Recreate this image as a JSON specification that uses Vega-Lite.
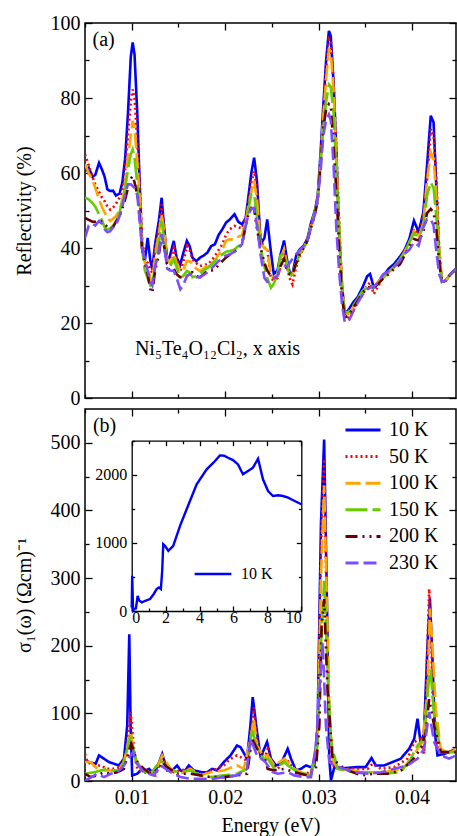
{
"$schema": "https://vega.github.io/schema/vega-lite/v6.json",
"padding": {"left": 13, "top": 12, "right": 0, "bottom": 0},
"background": "white",
"spacing": -2,
"config": {
  "font": "Liberation Serif",
  "view": {"stroke": "black", "strokeWidth": 1.5},
  "axis": {"domain": false, "grid": false, "labelFont": "Liberation Serif", "titleFont": "Liberation Serif", "labelFontSize": 20, "titleFontSize": 20, "titleFontWeight": "normal", "labelFontWeight": "normal", "labelColor": "black", "titleColor": "black", "tickColor": "black", "tickWidth": 1.3, "domainColor": "black", "domainWidth": 1.3, "labelPadding": 12},
  "legend": {"labelFont": "Liberation Serif", "labelFontWeight": "normal", "labelColor": "black"}
},
"resolve": {"scale": {"color": "independent", "strokeDash": "independent", "x": "independent", "y": "independent"}, "legend": {"color": "independent", "strokeDash": "independent"}},
"datasets": {
"refl": [
{"E":0.0050,"10 K":60.5,"50 K":65,"100 K":62.4,"150 K":53.4,"200 K":48,"230 K":42.7},
{"E":0.0054,"10 K":61.4,"50 K":62,"100 K":60,"150 K":53,"200 K":47.5,"230 K":46},
{"E":0.0058,"10 K":59,"50 K":59,"100 K":58,"150 K":52,"200 K":47,"230 K":46.5},
{"E":0.0061,"10 K":59.5,"50 K":57,"100 K":56,"150 K":51,"200 K":47,"230 K":46},
{"E":0.0065,"10 K":62.7,"50 K":55,"100 K":53,"150 K":49,"200 K":47.5,"230 K":47.2},
{"E":0.0068,"10 K":61,"50 K":53.5,"100 K":51,"150 K":47.5,"200 K":47,"230 K":46.5},
{"E":0.0071,"10 K":59,"50 K":52.5,"100 K":49.5,"150 K":45.5,"200 K":46.5,"230 K":45},
{"E":0.0074,"10 K":55.6,"50 K":51,"100 K":48,"150 K":45,"200 K":45.5,"230 K":44.2},
{"E":0.0077,"10 K":55.2,"50 K":50.2,"100 K":47.2,"150 K":45.2,"200 K":45,"230 K":44.5},
{"E":0.0080,"10 K":55.3,"50 K":50.8,"100 K":47.8,"150 K":46,"200 K":45.5,"230 K":45.5},
{"E":0.0083,"10 K":54,"50 K":51.7,"100 K":48.5,"150 K":47,"200 K":47,"230 K":46},
{"E":0.0087,"10 K":54.5,"50 K":53.5,"100 K":50,"150 K":49.5,"200 K":48.5,"230 K":48.5},
{"E":0.0090,"10 K":57.5,"50 K":55,"100 K":53,"150 K":52.5,"200 K":50.5,"230 K":51},
{"E":0.0093,"10 K":64,"50 K":61,"100 K":57,"150 K":56,"200 K":53,"230 K":54.5},
{"E":0.0096,"10 K":76,"50 K":70,"100 K":64,"150 K":61,"200 K":56,"230 K":57},
{"E":0.0099,"10 K":91,"50 K":79,"100 K":70,"150 K":65,"200 K":58.5,"230 K":57},
{"E":0.0101,"10 K":94.8,"50 K":82.3,"100 K":73.9,"150 K":66.3,"200 K":59.2,"230 K":56.5},
{"E":0.0103,"10 K":91.6,"50 K":80,"100 K":72,"150 K":64,"200 K":57.5,"230 K":56},
{"E":0.0106,"10 K":75.6,"50 K":68,"100 K":63,"150 K":57,"200 K":54,"230 K":54},
{"E":0.0109,"10 K":53.4,"50 K":55,"100 K":52,"150 K":48,"200 K":47,"230 K":46},
{"E":0.0111,"10 K":41,"50 K":43,"100 K":42,"150 K":40,"200 K":40,"230 K":40},
{"E":0.0114,"10 K":36.5,"50 K":37,"100 K":36,"150 K":34,"200 K":36,"230 K":37},
{"E":0.0117,"10 K":42.7,"50 K":36,"100 K":35,"150 K":32,"200 K":33,"230 K":34},
{"E":0.0120,"10 K":36.5,"50 K":34,"100 K":32,"150 K":30,"200 K":29,"230 K":31},
{"E":0.0122,"10 K":34.3,"50 K":33.5,"100 K":31,"150 K":30.5,"200 K":28,"230 K":30},
{"E":0.0125,"10 K":41,"50 K":40,"100 K":38,"150 K":35,"200 K":34,"230 K":35},
{"E":0.0129,"10 K":47.2,"50 K":45,"100 K":44,"150 K":41,"200 K":38,"230 K":39},
{"E":0.0132,"10 K":53.4,"50 K":51.6,"100 K":49,"150 K":47.2,"200 K":43.7,"230 K":43.7},
{"E":0.0135,"10 K":44.5,"50 K":45,"100 K":44,"150 K":42,"200 K":40,"230 K":40},
{"E":0.0138,"10 K":36.5,"50 K":37,"100 K":37,"150 K":36,"200 K":35,"230 K":34.5},
{"E":0.0141,"10 K":38,"50 K":36,"100 K":36,"150 K":35,"200 K":34,"230 K":34},
{"E":0.0145,"10 K":41.9,"50 K":40,"100 K":38.3,"150 K":37,"200 K":34.5,"230 K":33.9},
{"E":0.0148,"10 K":37.4,"50 K":37.5,"100 K":36,"150 K":35,"200 K":33,"230 K":32},
{"E":0.0152,"10 K":35.6,"50 K":33.9,"100 K":33.9,"150 K":32.2,"200 K":32.2,"230 K":29},
{"E":0.0155,"10 K":38.5,"50 K":36,"100 K":34,"150 K":32.5,"200 K":32,"230 K":30},
{"E":0.0159,"10 K":41.9,"50 K":40.5,"100 K":36.5,"150 K":33.9,"200 K":32.5,"230 K":32.5},
{"E":0.0162,"10 K":40.5,"50 K":39.5,"100 K":36.5,"150 K":33.5,"200 K":33.5,"230 K":33.1},
{"E":0.0165,"10 K":37.4,"50 K":37,"100 K":35.6,"150 K":32.2,"200 K":33.5,"230 K":32.5},
{"E":0.0169,"10 K":36.5,"50 K":36,"100 K":34.5,"150 K":32.5,"200 K":32.5,"230 K":32.2},
{"E":0.0173,"10 K":37.4,"50 K":35.2,"100 K":33.9,"150 K":33.1,"200 K":32.2,"230 K":32.2},
{"E":0.0177,"10 K":38,"50 K":35.5,"100 K":34.5,"150 K":34,"200 K":33,"230 K":32.8},
{"E":0.0181,"10 K":38.8,"50 K":35.6,"100 K":35.6,"150 K":34.7,"200 K":33.9,"230 K":33.5},
{"E":0.0185,"10 K":40.5,"50 K":36.5,"100 K":36,"150 K":35.5,"200 K":34,"230 K":34.5},
{"E":0.0189,"10 K":41,"50 K":37.9,"100 K":36.5,"150 K":36.5,"200 K":34.2,"230 K":35.5},
{"E":0.0193,"10 K":43.5,"50 K":39.5,"100 K":38.3,"150 K":37.5,"200 K":35.5,"230 K":36.5},
{"E":0.0197,"10 K":45,"50 K":41,"100 K":39.5,"150 K":38.3,"200 K":36.5,"230 K":37.4},
{"E":0.0201,"10 K":46.8,"50 K":43.6,"100 K":42,"150 K":39,"200 K":37.5,"230 K":38},
{"E":0.0205,"10 K":47.6,"50 K":45,"100 K":42.3,"150 K":39.2,"200 K":38.3,"230 K":38.3},
{"E":0.0210,"10 K":49,"50 K":45.9,"100 K":42.3,"150 K":39.6,"200 K":39,"230 K":39},
{"E":0.0214,"10 K":47,"50 K":45.5,"100 K":43,"150 K":40.5,"200 K":40,"230 K":40},
{"E":0.0218,"10 K":46.3,"50 K":45.2,"100 K":43.5,"150 K":41.1,"200 K":41,"230 K":41},
{"E":0.0222,"10 K":48,"50 K":48,"100 K":47,"150 K":46,"200 K":46,"230 K":46},
{"E":0.0225,"10 K":54,"50 K":52,"100 K":51.5,"150 K":50.5,"200 K":49,"230 K":49},
{"E":0.0228,"10 K":60,"50 K":57.5,"100 K":55,"150 K":54.3,"200 K":50.7,"230 K":50.5},
{"E":0.0231,"10 K":64.1,"50 K":60.5,"100 K":57.9,"150 K":54.4,"200 K":50.4,"230 K":50.7},
{"E":0.0234,"10 K":57.9,"50 K":56,"100 K":53,"150 K":48.1,"200 K":45,"230 K":46},
{"E":0.0238,"10 K":41,"50 K":42,"100 K":41,"150 K":40.1,"200 K":40,"230 K":38},
{"E":0.0242,"10 K":42.7,"50 K":40,"100 K":40,"150 K":35,"200 K":36,"230 K":32},
{"E":0.0245,"10 K":47.6,"50 K":40,"100 K":39.5,"150 K":32,"200 K":34,"230 K":31},
{"E":0.0249,"10 K":38.8,"50 K":31.7,"100 K":33,"150 K":29.4,"200 K":32.5,"230 K":31.5},
{"E":0.0252,"10 K":33.1,"50 K":31.5,"100 K":32,"150 K":30.5,"200 K":32,"230 K":32},
{"E":0.0256,"10 K":34,"50 K":32,"100 K":33,"150 K":33,"200 K":32.5,"230 K":32.5},
{"E":0.0259,"10 K":38,"50 K":35,"100 K":37,"150 K":37.9,"200 K":35,"230 K":34.5},
{"E":0.0263,"10 K":42,"50 K":39.6,"100 K":39.7,"150 K":38.8,"200 K":37.1,"230 K":35.3},
{"E":0.0266,"10 K":37.1,"50 K":35,"100 K":36,"150 K":35,"200 K":34,"230 K":35},
{"E":0.0269,"10 K":33.5,"50 K":32,"100 K":33.5,"150 K":33,"200 K":33,"230 K":36},
{"E":0.0272,"10 K":33,"50 K":30.3,"100 K":33,"150 K":32.5,"200 K":33,"230 K":37.1},
{"E":0.0276,"10 K":38,"50 K":35,"100 K":36,"150 K":36,"200 K":36,"230 K":38.4},
{"E":0.0280,"10 K":39.7,"50 K":38,"100 K":38.5,"150 K":38.5,"200 K":38.5,"230 K":39.5},
{"E":0.0284,"10 K":40.6,"50 K":40,"100 K":40,"150 K":40,"200 K":40,"230 K":40.5},
{"E":0.0288,"10 K":42.5,"50 K":42,"100 K":42,"150 K":42,"200 K":42,"230 K":42},
{"E":0.0292,"10 K":46.8,"50 K":46,"100 K":46,"150 K":46,"200 K":45.5,"230 K":45.5},
{"E":0.0296,"10 K":50,"50 K":49.5,"100 K":49.5,"150 K":49.5,"200 K":49,"230 K":49},
{"E":0.0299,"10 K":53.9,"50 K":53,"100 K":53,"150 K":53,"200 K":52.5,"230 K":53},
{"E":0.0302,"10 K":65,"50 K":63,"100 K":63,"150 K":62.5,"200 K":62,"230 K":60},
{"E":0.0305,"10 K":78,"50 K":76,"100 K":75,"150 K":72,"200 K":72,"230 K":70},
{"E":0.0308,"10 K":90,"50 K":88,"100 K":85,"150 K":79,"200 K":77,"230 K":74},
{"E":0.0311,"10 K":97.9,"50 K":95.7,"100 K":93,"150 K":83.6,"200 K":78.4,"230 K":75.6},
{"E":0.0313,"10 K":96.5,"50 K":95,"100 K":92.5,"150 K":83,"200 K":78,"230 K":74},
{"E":0.0316,"10 K":84,"50 K":84,"100 K":82,"150 K":76,"200 K":67,"230 K":62},
{"E":0.0319,"10 K":65.5,"50 K":66,"100 K":64,"150 K":60,"200 K":55,"230 K":45},
{"E":0.0322,"10 K":43.3,"50 K":47,"100 K":45,"150 K":45,"200 K":40,"230 K":33.5},
{"E":0.0325,"10 K":30,"50 K":30,"100 K":30,"150 K":29,"200 K":27,"230 K":25},
{"E":0.0328,"10 K":22.4,"50 K":21.1,"100 K":22,"150 K":22.8,"200 K":21.5,"230 K":20.2},
{"E":0.0332,"10 K":23.5,"50 K":21.5,"100 K":22.5,"150 K":23,"200 K":22,"230 K":20.5},
{"E":0.0337,"10 K":25.5,"50 K":23.5,"100 K":24.2,"150 K":24.6,"200 K":24,"230 K":23},
{"E":0.0342,"10 K":27,"50 K":25.5,"100 K":26.2,"150 K":26.5,"200 K":26,"230 K":25.5},
{"E":0.0347,"10 K":29.5,"50 K":27.5,"100 K":28.5,"150 K":28.5,"200 K":28,"230 K":27.5},
{"E":0.0352,"10 K":32.5,"50 K":30,"100 K":29.5,"150 K":29.5,"200 K":29.5,"230 K":29},
{"E":0.0355,"10 K":33.1,"50 K":30.8,"100 K":30,"150 K":29.5,"200 K":29.5,"230 K":29.4},
{"E":0.0359,"10 K":29.5,"50 K":27.7,"100 K":29.5,"150 K":29.5,"200 K":29.4,"230 K":29.5},
{"E":0.0364,"10 K":31,"50 K":30,"100 K":31,"150 K":30.5,"200 K":30.5,"230 K":31},
{"E":0.0369,"10 K":32.5,"50 K":32.2,"100 K":32.6,"150 K":32,"200 K":31.9,"230 K":33},
{"E":0.0375,"10 K":34.5,"50 K":33.5,"100 K":33.5,"150 K":33.5,"200 K":33,"230 K":33.8},
{"E":0.0381,"10 K":35.8,"50 K":35,"100 K":35,"150 K":35,"200 K":34.5,"230 K":35},
{"E":0.0387,"10 K":37.7,"50 K":37,"100 K":36.5,"150 K":37,"200 K":35.6,"230 K":36.5},
{"E":0.0392,"10 K":39.5,"50 K":39,"100 K":39,"150 K":39,"200 K":38,"230 K":38.5},
{"E":0.0397,"10 K":42.4,"50 K":41.5,"100 K":41.5,"150 K":41.5,"200 K":40.5,"230 K":39.5},
{"E":0.0402,"10 K":47.3,"50 K":45.1,"100 K":44.5,"150 K":44,"200 K":42.4,"230 K":41.5},
{"E":0.0407,"10 K":44.2,"50 K":43.5,"100 K":43,"150 K":43,"200 K":42,"230 K":40.6},
{"E":0.0412,"10 K":49.5,"50 K":48.5,"100 K":46.5,"150 K":45.5,"200 K":44,"230 K":45.5},
{"E":0.0416,"10 K":62,"50 K":58,"100 K":58,"150 K":54,"200 K":49.3,"230 K":47.7},
{"E":0.0420,"10 K":75.3,"50 K":71.7,"100 K":65.5,"150 K":57.5,"200 K":50.4,"230 K":47.7},
{"E":0.0423,"10 K":73.5,"50 K":70,"100 K":63.7,"150 K":56,"200 K":49.5,"230 K":46},
{"E":0.0426,"10 K":56,"50 K":58,"100 K":54,"150 K":48,"200 K":45,"230 K":39},
{"E":0.0429,"10 K":38,"50 K":40,"100 K":40,"150 K":38,"200 K":36,"230 K":33},
{"E":0.0432,"10 K":31,"50 K":31,"100 K":31,"150 K":31,"200 K":31,"230 K":31},
{"E":0.0436,"10 K":31.3,"50 K":31.3,"100 K":31.3,"150 K":31.3,"200 K":31.3,"230 K":31.3},
{"E":0.0441,"10 K":33,"50 K":33,"100 K":33,"150 K":33,"200 K":33,"230 K":33},
{"E":0.0447,"10 K":34.4,"50 K":34.4,"100 K":34.4,"150 K":34.4,"200 K":34.4,"230 K":34.4}
],
"cond": [
{"T":"10 K","E":0.005,"v":30.4},{"T":"10 K","E":0.00543,"v":28},{"T":"10 K","E":0.00614,"v":25.5},{"T":"10 K","E":0.0065,"v":37.8},{"T":"10 K","E":0.00703,"v":33},{"T":"10 K","E":0.00756,"v":28},{"T":"10 K","E":0.0081,"v":25.5},{"T":"10 K","E":0.00863,"v":23},{"T":"10 K","E":0.00917,"v":33},{"T":"10 K","E":0.00952,"v":82},{"T":"10 K","E":0.00974,"v":217},{"T":"10 K","E":0.00988,"v":82},{"T":"10 K","E":0.01005,"v":8.3},{"T":"10 K","E":0.01059,"v":10.7},{"T":"10 K","E":0.01112,"v":18},{"T":"10 K","E":0.01149,"v":15.6},{"T":"10 K","E":0.01184,"v":18},{"T":"10 K","E":0.01237,"v":10.7},{"T":"10 K","E":0.0128,"v":23},{"T":"10 K","E":0.01326,"v":40},{"T":"10 K","E":0.01379,"v":15.6},{"T":"10 K","E":0.01433,"v":15.6},{"T":"10 K","E":0.01486,"v":23},{"T":"10 K","E":0.01522,"v":15.6},{"T":"10 K","E":0.01558,"v":13},{"T":"10 K","E":0.01611,"v":23},{"T":"10 K","E":0.01665,"v":15.6},{"T":"10 K","E":0.01753,"v":13},{"T":"10 K","E":0.01807,"v":13},{"T":"10 K","E":0.0186,"v":18},{"T":"10 K","E":0.01913,"v":15.6},{"T":"10 K","E":0.01985,"v":28},{"T":"10 K","E":0.02057,"v":37.8},{"T":"10 K","E":0.02127,"v":52.6},{"T":"10 K","E":0.02164,"v":50},{"T":"10 K","E":0.02234,"v":33},{"T":"10 K","E":0.0227,"v":82},{"T":"10 K","E":0.02295,"v":124},{"T":"10 K","E":0.02341,"v":72},{"T":"10 K","E":0.02377,"v":37.8},{"T":"10 K","E":0.02402,"v":42.7},{"T":"10 K","E":0.02448,"v":57.6},{"T":"10 K","E":0.0249,"v":33},{"T":"10 K","E":0.02544,"v":23},{"T":"10 K","E":0.02597,"v":25.5},{"T":"10 K","E":0.02669,"v":47.7},{"T":"10 K","E":0.02704,"v":33},{"T":"10 K","E":0.02758,"v":15.6},{"T":"10 K","E":0.02811,"v":18},{"T":"10 K","E":0.02864,"v":23},{"T":"10 K","E":0.02918,"v":20.5},{"T":"10 K","E":0.02954,"v":23},{"T":"10 K","E":0.02989,"v":82},{"T":"10 K","E":0.03025,"v":380},{"T":"10 K","E":0.03059,"v":505},{"T":"10 K","E":0.03091,"v":250},{"T":"10 K","E":0.03114,"v":33},{"T":"10 K","E":0.03132,"v":1},{"T":"10 K","E":0.03168,"v":20.5},{"T":"10 K","E":0.03275,"v":19},{"T":"10 K","E":0.03399,"v":20.5},{"T":"10 K","E":0.03502,"v":20.5},{"T":"10 K","E":0.03566,"v":34},{"T":"10 K","E":0.03612,"v":23},{"T":"10 K","E":0.03702,"v":23},{"T":"10 K","E":0.03791,"v":28},{"T":"10 K","E":0.03879,"v":33},{"T":"10 K","E":0.03969,"v":47.7},{"T":"10 K","E":0.04023,"v":62.5},{"T":"10 K","E":0.04058,"v":92},{"T":"10 K","E":0.04093,"v":55},{"T":"10 K","E":0.04127,"v":70},{"T":"10 K","E":0.04165,"v":200},{"T":"10 K","E":0.04191,"v":270},{"T":"10 K","E":0.04218,"v":180},{"T":"10 K","E":0.04245,"v":70},{"T":"10 K","E":0.04272,"v":37.8},{"T":"10 K","E":0.04343,"v":40},{"T":"10 K","E":0.04397,"v":42.7},{"T":"10 K","E":0.0447,"v":47.7},
{"T":"50 K","E":0.005,"v":40},{"T":"50 K","E":0.00525,"v":28},{"T":"50 K","E":0.00596,"v":23},{"T":"50 K","E":0.00668,"v":23},{"T":"50 K","E":0.00738,"v":18},{"T":"50 K","E":0.0081,"v":18},{"T":"50 K","E":0.00881,"v":20.5},{"T":"50 K","E":0.00935,"v":37.8},{"T":"50 K","E":0.00965,"v":70},{"T":"50 K","E":0.00988,"v":102},{"T":"50 K","E":0.01024,"v":47.7},{"T":"50 K","E":0.01059,"v":18},{"T":"50 K","E":0.0113,"v":13},{"T":"50 K","E":0.01202,"v":10.7},{"T":"50 K","E":0.01255,"v":8.3},{"T":"50 K","E":0.01326,"v":35.4},{"T":"50 K","E":0.01379,"v":18},{"T":"50 K","E":0.01451,"v":13},{"T":"50 K","E":0.01522,"v":15.6},{"T":"50 K","E":0.01611,"v":18},{"T":"50 K","E":0.017,"v":10.7},{"T":"50 K","E":0.01771,"v":10.7},{"T":"50 K","E":0.01843,"v":15.6},{"T":"50 K","E":0.01913,"v":18},{"T":"50 K","E":0.01985,"v":23},{"T":"50 K","E":0.02057,"v":33},{"T":"50 K","E":0.02127,"v":37.8},{"T":"50 K","E":0.02199,"v":33},{"T":"50 K","E":0.02252,"v":28},{"T":"50 K","E":0.0227,"v":62.5},{"T":"50 K","E":0.02306,"v":109},{"T":"50 K","E":0.02341,"v":62.5},{"T":"50 K","E":0.02377,"v":37.8},{"T":"50 K","E":0.02431,"v":37.8},{"T":"50 K","E":0.02455,"v":47.7},{"T":"50 K","E":0.02509,"v":23},{"T":"50 K","E":0.02562,"v":18},{"T":"50 K","E":0.02651,"v":33},{"T":"50 K","E":0.02704,"v":23},{"T":"50 K","E":0.02776,"v":13},{"T":"50 K","E":0.02847,"v":10.7},{"T":"50 K","E":0.02918,"v":13},{"T":"50 K","E":0.02989,"v":57.6},{"T":"50 K","E":0.03025,"v":350},{"T":"50 K","E":0.03059,"v":476},{"T":"50 K","E":0.03091,"v":220},{"T":"50 K","E":0.03114,"v":82},{"T":"50 K","E":0.0315,"v":23},{"T":"50 K","E":0.03238,"v":18},{"T":"50 K","E":0.03381,"v":18},{"T":"50 K","E":0.03524,"v":18},{"T":"50 K","E":0.03577,"v":25.5},{"T":"50 K","E":0.03666,"v":18},{"T":"50 K","E":0.03809,"v":20.5},{"T":"50 K","E":0.03951,"v":33},{"T":"50 K","E":0.04023,"v":57.6},{"T":"50 K","E":0.04093,"v":62.5},{"T":"50 K","E":0.04129,"v":40},{"T":"50 K","E":0.04154,"v":150},{"T":"50 K","E":0.04183,"v":284},{"T":"50 K","E":0.04207,"v":200},{"T":"50 K","E":0.04218,"v":132},{"T":"50 K","E":0.04272,"v":47.7},{"T":"50 K","E":0.04343,"v":42.7},{"T":"50 K","E":0.0447,"v":45},
{"T":"100 K","E":0.005,"v":28},{"T":"100 K","E":0.00561,"v":28},{"T":"100 K","E":0.00631,"v":18},{"T":"100 K","E":0.00703,"v":15.6},{"T":"100 K","E":0.00775,"v":15.6},{"T":"100 K","E":0.00845,"v":15.6},{"T":"100 K","E":0.00917,"v":28},{"T":"100 K","E":0.0097,"v":62.5},{"T":"100 K","E":0.00991,"v":73},{"T":"100 K","E":0.01005,"v":57.6},{"T":"100 K","E":0.01042,"v":28},{"T":"100 K","E":0.0113,"v":18},{"T":"100 K","E":0.01237,"v":8.3},{"T":"100 K","E":0.01326,"v":37.8},{"T":"100 K","E":0.01416,"v":18},{"T":"100 K","E":0.01522,"v":10.7},{"T":"100 K","E":0.01629,"v":18},{"T":"100 K","E":0.01736,"v":8.3},{"T":"100 K","E":0.01843,"v":13},{"T":"100 K","E":0.01985,"v":15.6},{"T":"100 K","E":0.02127,"v":23},{"T":"100 K","E":0.02199,"v":18},{"T":"100 K","E":0.0227,"v":62.5},{"T":"100 K","E":0.02306,"v":92},{"T":"100 K","E":0.02341,"v":52.6},{"T":"100 K","E":0.02412,"v":35.4},{"T":"100 K","E":0.02455,"v":37.8},{"T":"100 K","E":0.02527,"v":23},{"T":"100 K","E":0.02634,"v":33},{"T":"100 K","E":0.02669,"v":28},{"T":"100 K","E":0.0274,"v":18},{"T":"100 K","E":0.02847,"v":10.7},{"T":"100 K","E":0.02918,"v":10.7},{"T":"100 K","E":0.02989,"v":57.6},{"T":"100 K","E":0.03025,"v":300},{"T":"100 K","E":0.03059,"v":437},{"T":"100 K","E":0.03091,"v":250},{"T":"100 K","E":0.03114,"v":107},{"T":"100 K","E":0.0315,"v":33},{"T":"100 K","E":0.03203,"v":18},{"T":"100 K","E":0.03381,"v":15.6},{"T":"100 K","E":0.03524,"v":13},{"T":"100 K","E":0.03702,"v":13},{"T":"100 K","E":0.03879,"v":18},{"T":"100 K","E":0.03986,"v":28},{"T":"100 K","E":0.04058,"v":47.7},{"T":"100 K","E":0.04111,"v":57.6},{"T":"100 K","E":0.04165,"v":132},{"T":"100 K","E":0.04191,"v":255},{"T":"100 K","E":0.04218,"v":200},{"T":"100 K","E":0.04253,"v":107},{"T":"100 K","E":0.04307,"v":47.7},{"T":"100 K","E":0.04397,"v":40},{"T":"100 K","E":0.0447,"v":47.7},
{"T":"150 K","E":0.005,"v":10.7},{"T":"150 K","E":0.00596,"v":13},{"T":"150 K","E":0.00668,"v":15.6},{"T":"150 K","E":0.00738,"v":18},{"T":"150 K","E":0.0081,"v":15.6},{"T":"150 K","E":0.00881,"v":15.6},{"T":"150 K","E":0.00935,"v":37.8},{"T":"150 K","E":0.00988,"v":67},{"T":"150 K","E":0.01042,"v":33},{"T":"150 K","E":0.01112,"v":15.6},{"T":"150 K","E":0.01202,"v":10.7},{"T":"150 K","E":0.01309,"v":30.4},{"T":"150 K","E":0.01416,"v":15.6},{"T":"150 K","E":0.01522,"v":13},{"T":"150 K","E":0.01629,"v":15.6},{"T":"150 K","E":0.01736,"v":8.3},{"T":"150 K","E":0.01843,"v":5.8},{"T":"150 K","E":0.01985,"v":8.3},{"T":"150 K","E":0.02127,"v":10.7},{"T":"150 K","E":0.02234,"v":18},{"T":"150 K","E":0.02287,"v":77},{"T":"150 K","E":0.02341,"v":47.7},{"T":"150 K","E":0.02412,"v":33},{"T":"150 K","E":0.02455,"v":33},{"T":"150 K","E":0.02527,"v":18},{"T":"150 K","E":0.02634,"v":28},{"T":"150 K","E":0.02669,"v":23},{"T":"150 K","E":0.02776,"v":13},{"T":"150 K","E":0.02918,"v":8.3},{"T":"150 K","E":0.02989,"v":52.6},{"T":"150 K","E":0.03025,"v":200},{"T":"150 K","E":0.03059,"v":296},{"T":"150 K","E":0.03091,"v":180},{"T":"150 K","E":0.03132,"v":57.6},{"T":"150 K","E":0.03203,"v":18},{"T":"150 K","E":0.03381,"v":13},{"T":"150 K","E":0.03524,"v":13},{"T":"150 K","E":0.03702,"v":10.7},{"T":"150 K","E":0.03879,"v":13},{"T":"150 K","E":0.03986,"v":33},{"T":"150 K","E":0.04058,"v":52.6},{"T":"150 K","E":0.04129,"v":62.5},{"T":"150 K","E":0.04183,"v":156},{"T":"150 K","E":0.04197,"v":165},{"T":"150 K","E":0.04236,"v":97},{"T":"150 K","E":0.04307,"v":42.7},{"T":"150 K","E":0.0447,"v":42.7},
{"T":"200 K","E":0.005,"v":10.7},{"T":"200 K","E":0.00561,"v":5.8},{"T":"200 K","E":0.00631,"v":8.3},{"T":"200 K","E":0.00703,"v":13},{"T":"200 K","E":0.00775,"v":10.7},{"T":"200 K","E":0.00845,"v":13},{"T":"200 K","E":0.00917,"v":18},{"T":"200 K","E":0.00988,"v":52.6},{"T":"200 K","E":0.00997,"v":55},{"T":"200 K","E":0.01059,"v":28},{"T":"200 K","E":0.0113,"v":18},{"T":"200 K","E":0.01202,"v":10.7},{"T":"200 K","E":0.01291,"v":18},{"T":"200 K","E":0.01326,"v":28},{"T":"200 K","E":0.01379,"v":20.5},{"T":"200 K","E":0.01486,"v":10.7},{"T":"200 K","E":0.01629,"v":10.7},{"T":"200 K","E":0.01736,"v":8.3},{"T":"200 K","E":0.01843,"v":5.8},{"T":"200 K","E":0.01985,"v":5.8},{"T":"200 K","E":0.02127,"v":8.3},{"T":"200 K","E":0.02234,"v":10.7},{"T":"200 K","E":0.02287,"v":62.5},{"T":"200 K","E":0.02341,"v":47.7},{"T":"200 K","E":0.02412,"v":37.8},{"T":"200 K","E":0.02455,"v":18},{"T":"200 K","E":0.02527,"v":15.6},{"T":"200 K","E":0.02634,"v":18},{"T":"200 K","E":0.0274,"v":13},{"T":"200 K","E":0.02883,"v":8.3},{"T":"200 K","E":0.02971,"v":18},{"T":"200 K","E":0.03008,"v":82},{"T":"200 K","E":0.03032,"v":230},{"T":"200 K","E":0.03059,"v":269},{"T":"200 K","E":0.03096,"v":132},{"T":"200 K","E":0.0315,"v":33},{"T":"200 K","E":0.03275,"v":18},{"T":"200 K","E":0.03452,"v":8.3},{"T":"200 K","E":0.03595,"v":10.7},{"T":"200 K","E":0.03737,"v":10.7},{"T":"200 K","E":0.03879,"v":15.6},{"T":"200 K","E":0.03986,"v":28},{"T":"200 K","E":0.04093,"v":47.7},{"T":"200 K","E":0.04147,"v":72},{"T":"200 K","E":0.04183,"v":121},{"T":"200 K","E":0.04236,"v":82},{"T":"200 K","E":0.04307,"v":42.7},{"T":"200 K","E":0.0447,"v":42.7},
{"T":"230 K","E":0.005,"v":1},{"T":"230 K","E":0.00543,"v":3.4},{"T":"230 K","E":0.00631,"v":10.7},{"T":"230 K","E":0.00703,"v":5.8},{"T":"230 K","E":0.00775,"v":10.7},{"T":"230 K","E":0.00845,"v":13},{"T":"230 K","E":0.00917,"v":23},{"T":"230 K","E":0.00988,"v":37.8},{"T":"230 K","E":0.01016,"v":43},{"T":"230 K","E":0.01042,"v":28},{"T":"230 K","E":0.0113,"v":13},{"T":"230 K","E":0.01237,"v":8.3},{"T":"230 K","E":0.01309,"v":23},{"T":"230 K","E":0.01416,"v":13},{"T":"230 K","E":0.01522,"v":5.8},{"T":"230 K","E":0.01629,"v":3.4},{"T":"230 K","E":0.01771,"v":3.4},{"T":"230 K","E":0.01878,"v":3.4},{"T":"230 K","E":0.01985,"v":5.8},{"T":"230 K","E":0.02127,"v":8.3},{"T":"230 K","E":0.02234,"v":18},{"T":"230 K","E":0.0227,"v":62.5},{"T":"230 K","E":0.02341,"v":37.8},{"T":"230 K","E":0.02431,"v":28},{"T":"230 K","E":0.02455,"v":23},{"T":"230 K","E":0.02509,"v":13},{"T":"230 K","E":0.02562,"v":10.7},{"T":"230 K","E":0.02669,"v":13},{"T":"230 K","E":0.0274,"v":8.3},{"T":"230 K","E":0.02847,"v":5.8},{"T":"230 K","E":0.02918,"v":5.8},{"T":"230 K","E":0.02971,"v":52.6},{"T":"230 K","E":0.03008,"v":132},{"T":"230 K","E":0.03043,"v":205},{"T":"230 K","E":0.03078,"v":82},{"T":"230 K","E":0.03114,"v":28},{"T":"230 K","E":0.03168,"v":23},{"T":"230 K","E":0.03381,"v":13},{"T":"230 K","E":0.03524,"v":10.7},{"T":"230 K","E":0.03666,"v":13},{"T":"230 K","E":0.03809,"v":18},{"T":"230 K","E":0.03951,"v":23},{"T":"230 K","E":0.04058,"v":33},{"T":"230 K","E":0.04129,"v":47.7},{"T":"230 K","E":0.04183,"v":102},{"T":"230 K","E":0.04236,"v":57.6},{"T":"230 K","E":0.04307,"v":37.8},{"T":"230 K","E":0.04397,"v":33},{"T":"230 K","E":0.0447,"v":37.8}
],
"inset": [
{"T":"10 K","E":0.0,"S":50},{"T":"10 K","E":0.03,"S":517},{"T":"10 K","E":0.08,"S":10},{"T":"10 K","E":0.15,"S":30},{"T":"10 K","E":0.25,"S":40},{"T":"10 K","E":0.35,"S":220},{"T":"10 K","E":0.45,"S":150},{"T":"10 K","E":0.6,"S":127},{"T":"10 K","E":0.8,"S":150},{"T":"10 K","E":1.08,"S":176},{"T":"10 K","E":1.3,"S":250},{"T":"10 K","E":1.47,"S":322},{"T":"10 K","E":1.6,"S":346},{"T":"10 K","E":1.72,"S":322},{"T":"10 K","E":1.8,"S":600},{"T":"10 K","E":1.86,"S":981},{"T":"10 K","E":1.96,"S":957},{"T":"10 K","E":2.16,"S":884},{"T":"10 K","E":2.45,"S":957},{"T":"10 K","E":2.85,"S":1249},{"T":"10 K","E":3.24,"S":1493},{"T":"10 K","E":3.83,"S":1859},{"T":"10 K","E":4.42,"S":2079},{"T":"10 K","E":4.82,"S":2177},{"T":"10 K","E":5.2,"S":2284},{"T":"10 K","E":5.45,"S":2280},{"T":"10 K","E":5.68,"S":2250},{"T":"10 K","E":5.97,"S":2216},{"T":"10 K","E":6.27,"S":2152},{"T":"10 K","E":6.56,"S":2006},{"T":"10 K","E":6.86,"S":2055},{"T":"10 K","E":7.15,"S":2104},{"T":"10 K","E":7.45,"S":2235},{"T":"10 K","E":7.74,"S":1933},{"T":"10 K","E":8.04,"S":1761},{"T":"10 K","E":8.33,"S":1688},{"T":"10 K","E":8.63,"S":1698},{"T":"10 K","E":8.92,"S":1688},{"T":"10 K","E":9.22,"S":1664},{"T":"10 K","E":9.61,"S":1615},{"T":"10 K","E":10,"S":1567}
]
},
"vconcat": [
{
 "width": 371, "height": 375,
 "layer": [
  {
   "data": {"name": "refl"},
   "transform": [{"fold": ["10 K","50 K","100 K","150 K","200 K","230 K"], "as": ["T","v"]}],
   "mark": {"type": "line", "strokeWidth": 2.6, "clip": true},
   "encoding": {
     "x": {"field": "E", "type": "quantitative", "scale": {"domain": [0.005, 0.0447], "nice": false, "zero": false},
           "axis": {"orient": "bottom", "title": null, "labels": false, "values": [0.005,0.01,0.015,0.02,0.025,0.03,0.035,0.04], "tickSize": {"condition": {"test": "abs(datum.value*100-round(datum.value*100))>0.01", "value": -4}, "value": -7}}},
     "y": {"field": "v", "type": "quantitative", "scale": {"domain": [0, 100], "nice": false},
           "axis": {"orient": "left", "title": "Reflectivity (%)", "titlePadding": 16, "values": [0,10,20,30,40,50,60,70,80,90,100], "labelExpr": "datum.value % 20 == 0 ? datum.label : ''", "tickSize": {"condition": {"test": "datum.value % 20 != 0", "value": -4}, "value": -7}}},
     "color": {"field": "T", "type": "nominal", "scale": {"domain": ["10 K","50 K","100 K","150 K","200 K","230 K"], "range": ["#0000ff","#ff0000","#ffa500","#66cc00","#660000","#7b4dff"]}, "legend": null},
     "strokeDash": {"field": "T", "type": "nominal", "scale": {"domain": ["10 K","50 K","100 K","150 K","200 K","230 K"], "range": [[1,0],[2,3],[15,5],[22,5],[12,5,2,5,2,5],[13,5]]}, "legend": null}
   }
  },
  {
   "data": {"values": [{}]},
   "mark": {"type": "text", "text": "(a)", "align": "left", "baseline": "middle", "fontSize": 20},
   "encoding": {
     "x": {"datum": 0.0058, "type": "quantitative", "axis": {"orient": "top", "title": null, "labels": false, "values": [0.005,0.01,0.015,0.02,0.025,0.03,0.035,0.04], "tickSize": {"condition": {"test": "abs(datum.value*100-round(datum.value*100))>0.01", "value": -4}, "value": -7}}},
     "y": {"datum": 95.5, "type": "quantitative", "axis": {"orient": "right", "title": null, "labels": false, "values": [0,10,20,30,40,50,60,70,80,90,100], "tickSize": {"condition": {"test": "datum.value % 20 != 0", "value": -4}, "value": -7}}}
   }
  },
  {
   "data": {"values": [{}]},
   "mark": {"type": "text", "text": "Ni₅Te₄O₁₂Cl₂, x axis", "align": "left", "baseline": "middle", "fontSize": 20},
   "encoding": {
     "x": {"datum": 0.01034, "type": "quantitative", "axis": null},
     "y": {"datum": 13, "type": "quantitative", "axis": null}
   }
  }
 ],
 "resolve": {"axis": {"x": "independent", "y": "independent"}}
},
{
 "width": 371, "height": 372,
 "layer": [
  {
   "layer": [
    {
     "data": {"name": "cond"},
     "mark": {"type": "line", "strokeWidth": 2.6, "clip": true},
     "encoding": {
       "x": {"field": "E", "type": "quantitative", "scale": {"domain": [0.005, 0.0447], "nice": false, "zero": false},
             "axis": {"orient": "bottom", "title": "Energy (eV)", "titleFont": "Liberation Serif", "titleFontWeight": "normal", "titlePadding": 8, "labelPadding": 13, "format": ".2f", "labelExpr": "abs(datum.value*100-round(datum.value*100))>0.01 ? '' : datum.label", "values": [0.005,0.01,0.015,0.02,0.025,0.03,0.035,0.04], "tickSize": {"condition": {"test": "abs(datum.value*100-round(datum.value*100))>0.01", "value": -4}, "value": -7}}},
       "y": {"field": "v", "type": "quantitative", "scale": {"domain": [0, 550], "nice": false},
             "axis": {"orient": "left", "title": "σ₁(ω) (Ωcm)⁻¹", "titlePadding": 16, "values": [0,50,100,150,200,250,300,350,400,450,500], "labelExpr": "datum.value % 100 == 0 ? datum.label : ''", "tickSize": {"condition": {"test": "datum.value % 100 != 0", "value": -4}, "value": -7}}},
       "color": {"field": "T", "type": "nominal", "scale": {"domain": ["10 K","50 K","100 K","150 K","200 K","230 K"], "range": ["#0000ff","#ff0000","#ffa500","#66cc00","#660000","#7b4dff"]},
                 "legend": {"orient": "none", "legendX": 259, "legendY": 11, "title": null, "symbolType": "stroke", "symbolSize": 1225, "symbolStrokeWidth": 3, "labelFont": "Liberation Serif", "labelFontWeight": "normal", "labelFontSize": 20, "labelOffset": 7, "clipHeight": 20, "rowPadding": 6.6}},
       "strokeDash": {"field": "T", "type": "nominal", "scale": {"domain": ["10 K","50 K","100 K","150 K","200 K","230 K"], "range": [[1,0],[2,3],[15,5],[22,5],[12,5,2,5,2,5],[13,5]]},
                 "legend": {"orient": "none", "legendX": 259, "legendY": 11, "title": null, "symbolType": "stroke", "symbolSize": 1225, "symbolStrokeWidth": 3, "labelFont": "Liberation Serif", "labelFontWeight": "normal", "labelFontSize": 20, "labelOffset": 7, "clipHeight": 20, "rowPadding": 6.6}}
     }
    },
    {
     "data": {"values": [{}]},
     "mark": {"type": "text", "text": "(b)", "align": "left", "baseline": "middle", "fontSize": 20},
     "encoding": {
       "x": {"datum": 0.00585, "type": "quantitative", "axis": {"orient": "top", "title": null, "labels": false, "values": [0.005,0.01,0.015,0.02,0.025,0.03,0.035,0.04], "tickSize": {"condition": {"test": "abs(datum.value*100-round(datum.value*100))>0.01", "value": -4}, "value": -7}}},
       "y": {"datum": 525, "type": "quantitative", "axis": {"orient": "right", "title": null, "labels": false, "values": [0,50,100,150,200,250,300,350,400,450,500], "tickSize": {"condition": {"test": "datum.value % 100 != 0", "value": -4}, "value": -7}}}
     }
    }
   ],
   "resolve": {"axis": {"x": "independent", "y": "independent"}}
  },
  {
   "layer": [
    {
     "data": {"name": "inset"},
     "mark": {"type": "line", "strokeWidth": 2.4},
     "encoding": {
       "x": {"field": "E", "type": "quantitative", "scale": {"domain": [0, 10], "range": [46.7, 216.3], "nice": false, "zero": false},
             "axis": {"orient": "bottom", "offset": -170, "title": null, "domain": true, "labelFontSize": 16, "labelPadding": 3, "format": "d", "values": [0,1,2,3,4,5,6,7,8,9,10], "labelExpr": "datum.value % 2 == 0 ? datum.label : ''", "tickSize": {"condition": {"test": "datum.value % 2 != 0", "value": -3}, "value": -5}}},
       "y": {"field": "S", "type": "quantitative", "scale": {"domain": [0, 2500], "range": [202, 31.7], "nice": false},
             "axis": {"orient": "left", "offset": -46.7, "title": null, "domain": true, "labelFontSize": 16, "labelPadding": 10, "format": "d", "values": [0,500,1000,1500,2000,2500], "labelExpr": "datum.value % 1000 == 0 ? datum.label : ''", "tickSize": {"condition": {"test": "datum.value % 1000 != 0", "value": -3}, "value": -5}}},
       "color": {"field": "T", "type": "nominal", "scale": {"domain": ["10 K"], "range": ["#0000ff"]},
                 "legend": {"orient": "none", "legendX": 108, "legendY": 157, "title": null, "symbolType": "stroke", "symbolSize": 1350, "symbolStrokeWidth": 2.4, "labelFont": "Liberation Serif", "labelFontWeight": "normal", "labelFontSize": 16, "labelOffset": 8, "clipHeight": 16}}
     }
    },
    {
     "data": {"values": [{}]},
     "mark": {"type": "text", "text": ""},
     "encoding": {
       "x": {"datum": 0, "type": "quantitative", "axis": {"orient": "top", "offset": -31.7, "title": null, "labels": false, "domain": true, "values": [0,1,2,3,4,5,6,7,8,9,10], "tickSize": {"condition": {"test": "datum.value % 2 != 0", "value": -3}, "value": -5}}},
       "y": {"datum": 0, "type": "quantitative", "axis": {"orient": "right", "offset": -154.7, "title": null, "labels": false, "domain": true, "values": [0,500,1000,1500,2000,2500], "tickSize": {"condition": {"test": "datum.value % 1000 != 0", "value": -3}, "value": -5}}}
     }
    }
   ],
   "resolve": {"axis": {"x": "independent", "y": "independent"}}
  }
 ],
 "resolve": {"scale": {"x": "independent", "y": "independent", "color": "independent", "strokeDash": "independent"}, "legend": {"color": "independent", "strokeDash": "independent"}}
}
]
}
